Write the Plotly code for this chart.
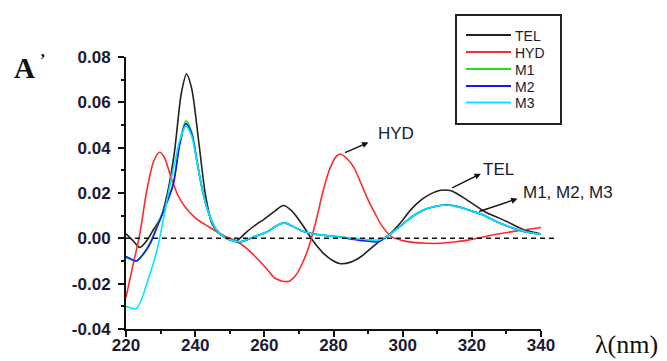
import plotly.graph_objects as go

# ---------------- data ----------------
names = ["TEL", "HYD", "M1", "M2", "M3"]
colors = ["#222222", "#ff2a2a", "#22dd22", "#1515ff", "#00e8ff"]

tel_x = [220, 222, 224, 226, 228, 230, 232, 234, 236, 237.5, 239, 241, 243, 245, 247, 250, 252, 255,
         258, 260, 263, 265.5, 268, 271, 274, 277, 280, 282, 285, 288, 291, 294, 296, 300, 302, 305,
         308, 311, 314, 317, 320, 324, 327, 330, 334, 337, 340.4]
tel_y = [0.002, -0.001, -0.004, -0.001, 0.004, 0.009, 0.020, 0.038, 0.064, 0.0725, 0.066, 0.043, 0.019,
         0.006, 0.002, 0.000, -0.001, 0.003, 0.0065, 0.0085, 0.012, 0.0145, 0.012, 0.006, -0.001, -0.0065,
         -0.010, -0.0112, -0.0105, -0.008, -0.0042, -0.0005, 0.0015, 0.008, 0.012, 0.0165, 0.0195, 0.0212,
         0.021, 0.0185, 0.0155, 0.0115, 0.0095, 0.0075, 0.0045, 0.003, 0.0018]

hyd_x = [220, 222, 224, 226, 228, 229.7, 231, 233, 235, 237, 240, 244, 249, 253, 256, 258, 261, 263,
         265, 267, 269, 271, 273, 275, 277, 279, 281, 282, 284, 286, 288, 290, 292, 294, 297, 300, 303,
         307, 311, 315, 319, 323, 328, 334, 340]
hyd_y = [-0.026, -0.012, 0.002, 0.021, 0.034, 0.038, 0.036, 0.027, 0.019, 0.014, 0.009, 0.005, 0.0006,
         -0.0023, -0.006, -0.009, -0.014, -0.0175, -0.0188, -0.019, -0.0165, -0.011, -0.003, 0.008, 0.021,
         0.031, 0.0365, 0.0372, 0.035, 0.031, 0.024, 0.017, 0.011, 0.0055, 0.0005, -0.001, -0.0018, -0.0022,
         -0.0022, -0.0016, -0.0008, 0.0005, 0.002, 0.0035, 0.0048]

m_x = [220, 222, 223, 225, 227, 229, 231, 233.7, 235.5, 237.3, 239, 240.5, 242, 243.5, 246, 249, 253,
       257, 261, 263, 265.6, 268, 270.5, 274, 278, 282, 286, 290, 293, 296, 299, 302.6, 306, 310, 313,
       316, 320, 323, 326, 330, 335, 340]
m1_y = [-0.0085, -0.0098, -0.0102, -0.0068, -0.0018, 0.0055, 0.013, 0.0245, 0.042, 0.0518, 0.047, 0.0345,
        0.022, 0.013, 0.004, 0.000, -0.0014, 0.0008, 0.003, 0.005, 0.0068, 0.0055, 0.0035, 0.002, 0.0012,
        0.0006, -0.0001, -0.0007, -0.0009, 0.0013, 0.005, 0.0094, 0.0125, 0.0143, 0.0147, 0.014, 0.012,
        0.0105, 0.0082, 0.0055, 0.003, 0.0018]
m2_y = [-0.008, -0.0095, -0.010, -0.007, -0.0023, 0.005, 0.0125, 0.024, 0.041, 0.0506, 0.046, 0.034,
        0.022, 0.013, 0.004, 0.000, -0.0016, 0.0006, 0.003, 0.005, 0.0068, 0.0055, 0.0035, 0.002, 0.0012,
        0.0005, -0.0005, -0.0013, -0.0015, 0.0013, 0.005, 0.0094, 0.0125, 0.0143, 0.0147, 0.014, 0.012,
        0.0105, 0.0082, 0.0055, 0.003, 0.0018]
m3_x = [220, 222, 223, 224.5, 226, 227.5, 229, 230.5, 232, 234, 235.7, 237.3, 239, 240.5, 242, 243.5,
        246, 249, 253, 257, 261, 263, 265.6, 268, 270.5, 274, 278, 282, 286, 290, 293, 296, 299, 302.6,
        306, 310, 313, 316, 320, 323, 326, 330, 335, 340]
m3_y = [-0.030, -0.031, -0.031, -0.027, -0.020, -0.013, -0.005, 0.006, 0.018, 0.033, 0.044, 0.0496, 0.045,
        0.034, 0.022, 0.013, 0.004, 0.000, -0.0015, 0.0007, 0.003, 0.005, 0.0068, 0.0055, 0.0035, 0.002,
        0.0012, 0.0006, 0.0000, -0.0006, -0.0008, 0.0013, 0.005, 0.0094, 0.0125, 0.0143, 0.0147, 0.014,
        0.012, 0.0105, 0.0082, 0.0055, 0.003, 0.0018]

x_ticks = [220, 240, 260, 280, 300, 320, 340]
y_ticks = [-0.04, -0.02, 0.00, 0.02, 0.04, 0.06, 0.08]
x_range = [220, 340]
y_range = [-0.04, 0.08]

series = [(tel_x, tel_y), (hyd_x, hyd_y), (m_x, m1_y), (m_x, m2_y), (m3_x, m3_y)]

# ---------------- figure ----------------
W, H = 667, 361
ML, MR, MT, MB = 126, 126, 57, 32
PW, PH = W - ML - MR, H - MT - MB

def px(xp):
    return (xp - ML) / PW

def py(yp):
    return (H - MB - yp) / PH

fig = go.Figure()
for (xs, ys), nm, col in zip(series, names, colors):
    fig.add_trace(go.Scatter(x=xs, y=ys, name=nm, mode="lines",
                             line=dict(color=col, width=1.6, shape="spline", smoothing=0.8),
                             showlegend=False))

tickfont = dict(family="Liberation Sans, Arial, sans-serif", size=17, color="#1a1a30")
fig.update_xaxes(range=x_range, tickvals=x_ticks, ticktext=[str(v) for v in x_ticks],
                 showline=True, linecolor="#111", linewidth=2, ticks="outside", ticklen=6,
                 tickwidth=2, tickcolor="#111", showgrid=False, zeroline=False, automargin=False,
                 tickfont=dict(tickfont, weight="bold"), ticklabelstandoff=-6,
                 minor=dict(dtick=10, tick0=220, ticks="outside", ticklen=3, tickwidth=2, tickcolor="#111"))
fig.update_yaxes(range=y_range, tickvals=y_ticks, ticktext=["%.2f" % v for v in y_ticks],
                 showline=True, linecolor="#111", linewidth=2, ticks="outside", ticklen=6,
                 tickwidth=2, tickcolor="#111", showgrid=False, zeroline=False, automargin=False,
                 tickfont=dict(tickfont, weight="bold"), ticklabelstandoff=4,
                 minor=dict(dtick=0.01, tick0=0, ticks="outside", ticklen=3, tickwidth=2, tickcolor="#111"))

# dashed zero line (extends a little past the axis end)
zero_frac = (0 - y_range[0]) / (y_range[1] - y_range[0])
fig.add_shape(type="line", xref="paper", yref="paper", x0=0, x1=px(558), y0=zero_frac, y1=zero_frac,
              line=dict(color="#111", width=1.5, dash="5px,4px"))

# legend box drawn by hand
fig.add_shape(type="rect", xref="paper", yref="paper", x0=px(456), x1=px(561), y0=py(124), y1=py(15),
              line=dict(color="#222", width=2), fillcolor="white")
leg_y = [35, 52, 69, 86, 102.5]
for nm, col, ly in zip(names, colors, leg_y):
    fig.add_shape(type="line", xref="paper", yref="paper", x0=px(466), x1=px(511), y0=py(ly), y1=py(ly),
                  line=dict(color=col, width=1.8))
    fig.add_annotation(xref="paper", yref="paper", x=px(513), y=py(ly + 1), text=nm, showarrow=False,
                       xanchor="left", yanchor="middle",
                       font=dict(family="Liberation Sans, Arial, sans-serif", size=14, color="#1a1a30"))

# curve labels with arrows
labfont = dict(family="Liberation Sans, Arial, sans-serif", size=17, color="#1a1a30")
arrows = [((282.9, 0.0375), (290.1, 0.0423)),
          ((313.9, 0.0219), (322.6, 0.0285)),
          ((321.7, 0.0116), (333.2, 0.0175))]
for (tx, ty), (hx, hy) in arrows:
    fig.add_annotation(x=hx, y=hy, ax=tx, ay=ty, xref="x", yref="y", axref="x", ayref="y",
                       text="", showarrow=True, arrowhead=2, arrowsize=0.9, arrowwidth=1.4,
                       arrowcolor="#111")
fig.add_annotation(x=298, y=0.0463, text="HYD", showarrow=False, xanchor="center", yanchor="middle", font=labfont)
fig.add_annotation(x=327.8, y=0.0302, text="TEL", showarrow=False, xanchor="center", yanchor="middle", font=labfont)
fig.add_annotation(x=334.2, y=0.0201, text="M1, M2, M3", showarrow=False, xanchor="left", yanchor="middle", font=labfont)

# axis titles
serif = "Liberation Serif, Times New Roman, serif"
fig.add_annotation(xref="paper", yref="paper", x=px(24), y=py(68), text="A", showarrow=False,
                   xanchor="center", yanchor="middle", font=dict(family=serif, size=29, color="#111", weight="bold"))
fig.add_annotation(xref="paper", yref="paper", x=px(42), y=py(60), text="’", showarrow=False,
                   xanchor="center", yanchor="middle", font=dict(family=serif, size=16, color="#111", weight="bold"))
fig.add_annotation(xref="paper", yref="paper", x=px(626), y=py(344), text="λ(nm)", showarrow=False,
                   xanchor="center", yanchor="middle", font=dict(family=serif, size=26, color="#111"))

fig.update_layout(width=W, height=H, margin=dict(l=ML, r=MR, t=MT, b=MB, autoexpand=False),
                  paper_bgcolor="white", plot_bgcolor="white", showlegend=False)

fig.write_html("out.html")
